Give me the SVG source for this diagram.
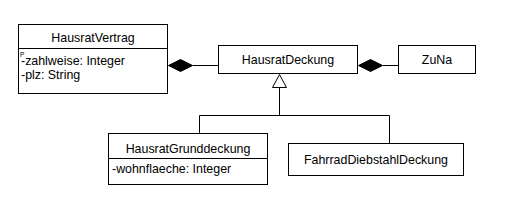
<svg xmlns="http://www.w3.org/2000/svg" width="510" height="214" viewBox="0 0 510 214">
<style>
.box{fill:#fff;stroke:#000;stroke-width:1}
.ln{fill:none;stroke:#000;stroke-width:1}
.t{font-family:"Liberation Sans",Arial,sans-serif;font-size:12.4px;fill:#000}
.c{text-anchor:middle}
.dia{fill:#000;stroke:#000;stroke-width:1}
.tri{fill:#fff;stroke:#000;stroke-width:1}
</style>
<rect width="510" height="214" fill="#fff"/>
<g id="connectors">
  <line class="ln" x1="193" y1="65.5" x2="218.5" y2="65.5"/>
  <polygon class="dia" points="168.5,65.5 180.5,59.5 192.5,65.5 180.5,71.5"/>
  <line class="ln" x1="383" y1="65.5" x2="398.5" y2="65.5"/>
  <polygon class="dia" points="358.5,65.5 370.5,59.5 382.5,65.5 370.5,71.5"/>
  <polyline class="ln" points="199.5,133.5 199.5,115.5 389.5,115.5 389.5,143.5"/>
  <line class="ln" x1="279.5" y1="115.5" x2="279.5" y2="87.5"/>
  <polygon class="tri" points="279.5,74.5 286.5,87.5 272.5,87.5"/>
</g>
<g id="HausratVertrag">
  <rect class="box" x="18.5" y="24.5" width="149" height="69"/>
  <line class="ln" x1="18.5" y1="48.5" x2="167.5" y2="48.5"/>
  <text class="t c" x="93" y="41.5">HausratVertrag</text>
  <text class="t" x="20" y="57" style="font-size:6.5px">P</text>
  <text class="t" x="21" y="65">-zahlweise: Integer</text>
  <text class="t" x="21" y="79">-plz: String</text>
</g>
<g id="HausratDeckung">
  <rect class="box" x="218.5" y="45.5" width="139" height="28"/>
  <text class="t c" x="288" y="64">HausratDeckung</text>
</g>
<g id="ZuNa">
  <rect class="box" x="398.5" y="45.5" width="77" height="28"/>
  <text class="t c" x="437" y="64">ZuNa</text>
</g>
<g id="HausratGrunddeckung">
  <rect class="box" x="108.5" y="133.5" width="159" height="51"/>
  <line class="ln" x1="108.5" y1="158.5" x2="267.5" y2="158.5"/>
  <text class="t c" x="188" y="152.5">HausratGrunddeckung</text>
  <text class="t" x="112" y="172.5">-wohnflaeche: Integer</text>
</g>
<g id="FahrradDiebstahlDeckung">
  <rect class="box" x="288.5" y="143.5" width="175" height="32"/>
  <text class="t c" x="376" y="164">FahrradDiebstahlDeckung</text>
</g>
</svg>
